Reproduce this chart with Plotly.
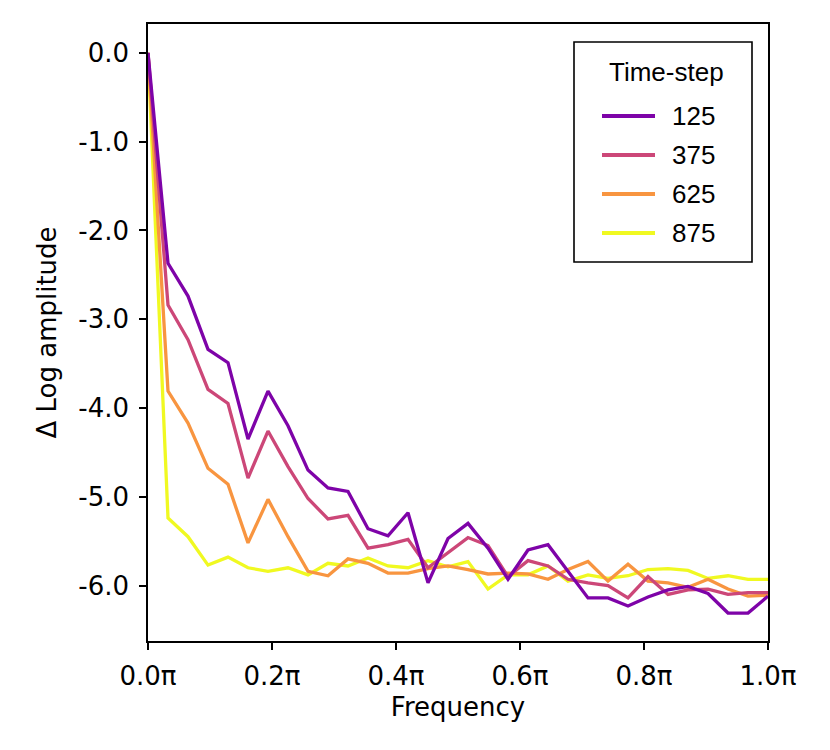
import numpy as np
import plotly.graph_objects as go

# frequency grid, in units of pi
freq = np.linspace(0, 1, 32)

steps = ["125", "375", "625", "875"]
colors = ["#7e03a8", "#cc4778", "#f89540", "#f0f921"]

amp_125 = [0.0, -2.37, -2.74, -3.34, -3.49, -4.35, -3.81, -4.20, -4.70, -4.90, -4.94,
           -5.36, -5.44, -5.18, -5.97, -5.47, -5.30, -5.58, -5.93, -5.60, -5.54,
           -5.84, -6.14, -6.14, -6.23, -6.13, -6.05, -6.01, -6.09, -6.31, -6.31, -6.12]
amp_375 = [0.0, -2.84, -3.23, -3.79, -3.95, -4.79, -4.26, -4.66, -5.02, -5.25, -5.21,
           -5.58, -5.54, -5.48, -5.80, -5.63, -5.46, -5.55, -5.90, -5.72, -5.78,
           -5.93, -5.97, -6.00, -6.14, -5.90, -6.10, -6.05, -6.04, -6.10, -6.08, -6.08]
amp_625 = [0.0, -3.81, -4.17, -4.68, -4.86, -5.52, -5.03, -5.45, -5.84, -5.89, -5.70,
           -5.75, -5.86, -5.86, -5.81, -5.78, -5.82, -5.87, -5.86, -5.87, -5.93,
           -5.82, -5.73, -5.95, -5.76, -5.95, -5.97, -6.02, -5.93, -6.04, -6.12, -6.11]
amp_875 = [0.0, -5.24, -5.45, -5.77, -5.68, -5.80, -5.84, -5.80, -5.88, -5.75, -5.78,
           -5.69, -5.78, -5.80, -5.72, -5.79, -5.73, -6.04, -5.88, -5.88, -5.78,
           -5.95, -5.88, -5.92, -5.89, -5.82, -5.81, -5.83, -5.92, -5.89, -5.93, -5.93]

y_ticks = [0, -1, -2, -3, -4, -5, -6]
y_ticklabels = ["0.0", "-1.0", "-2.0", "-3.0", "-4.0", "-5.0", "-6.0"]
x_ticks = [0, 0.2, 0.4, 0.6, 0.8, 1.0]
x_ticklabels = ["0.0π", "0.2π", "0.4π", "0.6π", "0.8π", "1.0π"]

series = [amp_125, amp_375, amp_625, amp_875]

fig = go.Figure()
# draw latest time-step first so the early ones sit on top
for name, col, vals in reversed(list(zip(steps, colors, series))):
    fig.add_trace(go.Scatter(x=freq, y=vals, mode="lines", name=name,
                             showlegend=False,
                             line=dict(color=col, width=3.3)))

tick_font = dict(family="DejaVu Sans", size=26, color="black")
axis_common = dict(showline=True, linecolor="black", linewidth=1.5, mirror=True,
                   ticks="outside", ticklen=7, tickwidth=1.5, tickcolor="black",
                   showgrid=False, zeroline=False, tickfont=tick_font)

fig.update_xaxes(range=[0, 1], tickvals=x_ticks, ticktext=x_ticklabels,
                 ticklabelstandoff=4,
                 title=dict(text="Frequency", standoff=8, font=tick_font),
                 **axis_common)
fig.update_yaxes(range=[-6.625, 0.325], tickvals=y_ticks, ticktext=y_ticklabels,
                 ticklabelstandoff=5,
                 title=dict(text="Δ Log amplitude", standoff=14, font=tick_font),
                 **axis_common)

# legend box drawn by hand (matplotlib-style long handles)
# plot area spans px 148..768 horizontally and 24..641 vertically
def px_x(p):
    return (p - 148) / 620.0

def px_y(p):
    return (641 - p) / 617.0

leg_font = dict(family="Liberation Sans", size=26, color="black")
fig.add_shape(type="rect", xref="paper", yref="paper",
              x0=px_x(574), x1=px_x(752), y0=px_y(262), y1=px_y(42),
              line=dict(color="black", width=1.6), fillcolor="white", layer="above")
fig.add_annotation(xref="paper", yref="paper", x=px_x(666), y=px_y(72),
                   text="Time-step", showarrow=False, font=leg_font,
                   xanchor="center", yanchor="middle")
for i, (name, col) in enumerate(zip(steps, colors)):
    yy = px_y(116 + 39 * i)
    fig.add_shape(type="line", xref="paper", yref="paper",
                  x0=px_x(602), x1=px_x(655), y0=yy, y1=yy,
                  line=dict(color=col, width=4), layer="above")
    fig.add_annotation(xref="paper", yref="paper", x=px_x(670), y=yy,
                       text=name, showarrow=False, font=leg_font,
                       xanchor="left", yanchor="middle")

fig.update_layout(
    width=822, height=742,
    margin=dict(l=140, r=62, t=16, b=109),
    plot_bgcolor="white", paper_bgcolor="white",
    showlegend=False,
)

fig.write_html("out.html")
